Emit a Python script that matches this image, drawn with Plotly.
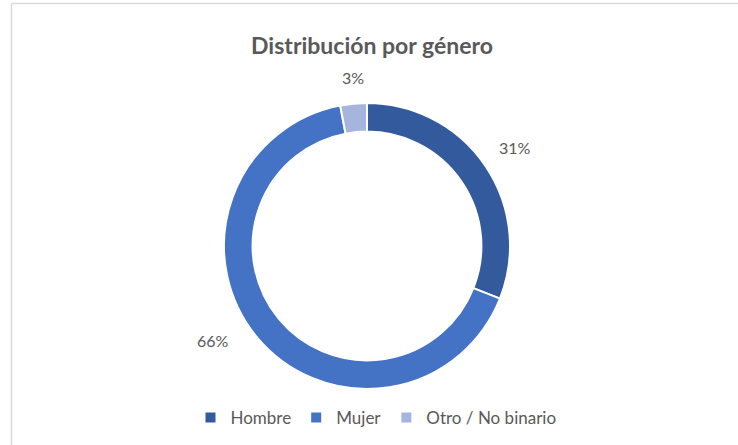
import math
import plotly.graph_objects as go

labels = ["Hombre", "Mujer", "Otro / No binario"]
values = [31, 66, 3]
colors = ["#345A9E", "#4472C4", "#A5B5DD"]

W, H = 738, 445
cx, cy, r = 367, 246, 143
label_r = 176
# small nudges (px) so the labels sit where Excel's "best fit" put them
nudges = [(2, 0), (-18, 18), (3, -7)]

fig = go.Figure()

fig.add_trace(go.Pie(
    labels=labels, values=values, sort=False, direction="clockwise", rotation=0,
    hole=0.8,
    marker=dict(colors=colors, line=dict(color="white", width=2)),
    textinfo="none",
    domain=dict(x=[(cx - r) / W, (cx + r) / W], y=[(H - cy - r) / H, (H - cy + r) / H]),
    hoverinfo="label+percent",
))

# percentage labels outside the ring, placed at each slice's mid angle
total = sum(values)
start = 0
for v, (dx, dy) in zip(values, nudges):
    mid = (start + v / 2) / total * 2 * math.pi
    start += v
    fig.add_annotation(
        x=(cx + label_r * math.sin(mid)) / W, y=(H - cy + label_r * math.cos(mid)) / H,
        xref="paper", yref="paper", xanchor="center", yanchor="middle",
        xshift=dx, yshift=dy,
        text=f"{round(v / total * 100)}%", showarrow=False,
        font=dict(family="Lato", size=16, color="#595959"),
    )

# Frame lines of the original chart area (top and left only visible)
fig.add_shape(type="line", xref="paper", yref="paper", x0=11.5 / W, x1=1, y0=1 - 3.5 / H, y1=1 - 3.5 / H,
              line=dict(color="#D9D9D9", width=1.5))
fig.add_shape(type="line", xref="paper", yref="paper", x0=11.5 / W, x1=11.5 / W, y0=0, y1=1 - 3.5 / H,
              line=dict(color="#D9D9D9", width=1.5))

fig.update_layout(
    width=W, height=H,
    margin=dict(l=0, r=0, t=0, b=0),
    paper_bgcolor="white", plot_bgcolor="white",
    title=dict(text="<b>Distribución por género</b>", x=372 / W, xanchor="center",
               y=1 - 46 / H, yanchor="middle",
               font=dict(family="Lato", size=23, color="#595959")),
    showlegend=True,
    legend=dict(orientation="h", x=376 / W, xanchor="center", y=1 - 418 / H, yanchor="middle",
                font=dict(family="Lato", size=17, color="#595959"), itemwidth=30,
                traceorder="normal"),
)

fig.write_html("out.html", config={"displayModeBar": False},
               post_script="document.body.style.margin='0';")
